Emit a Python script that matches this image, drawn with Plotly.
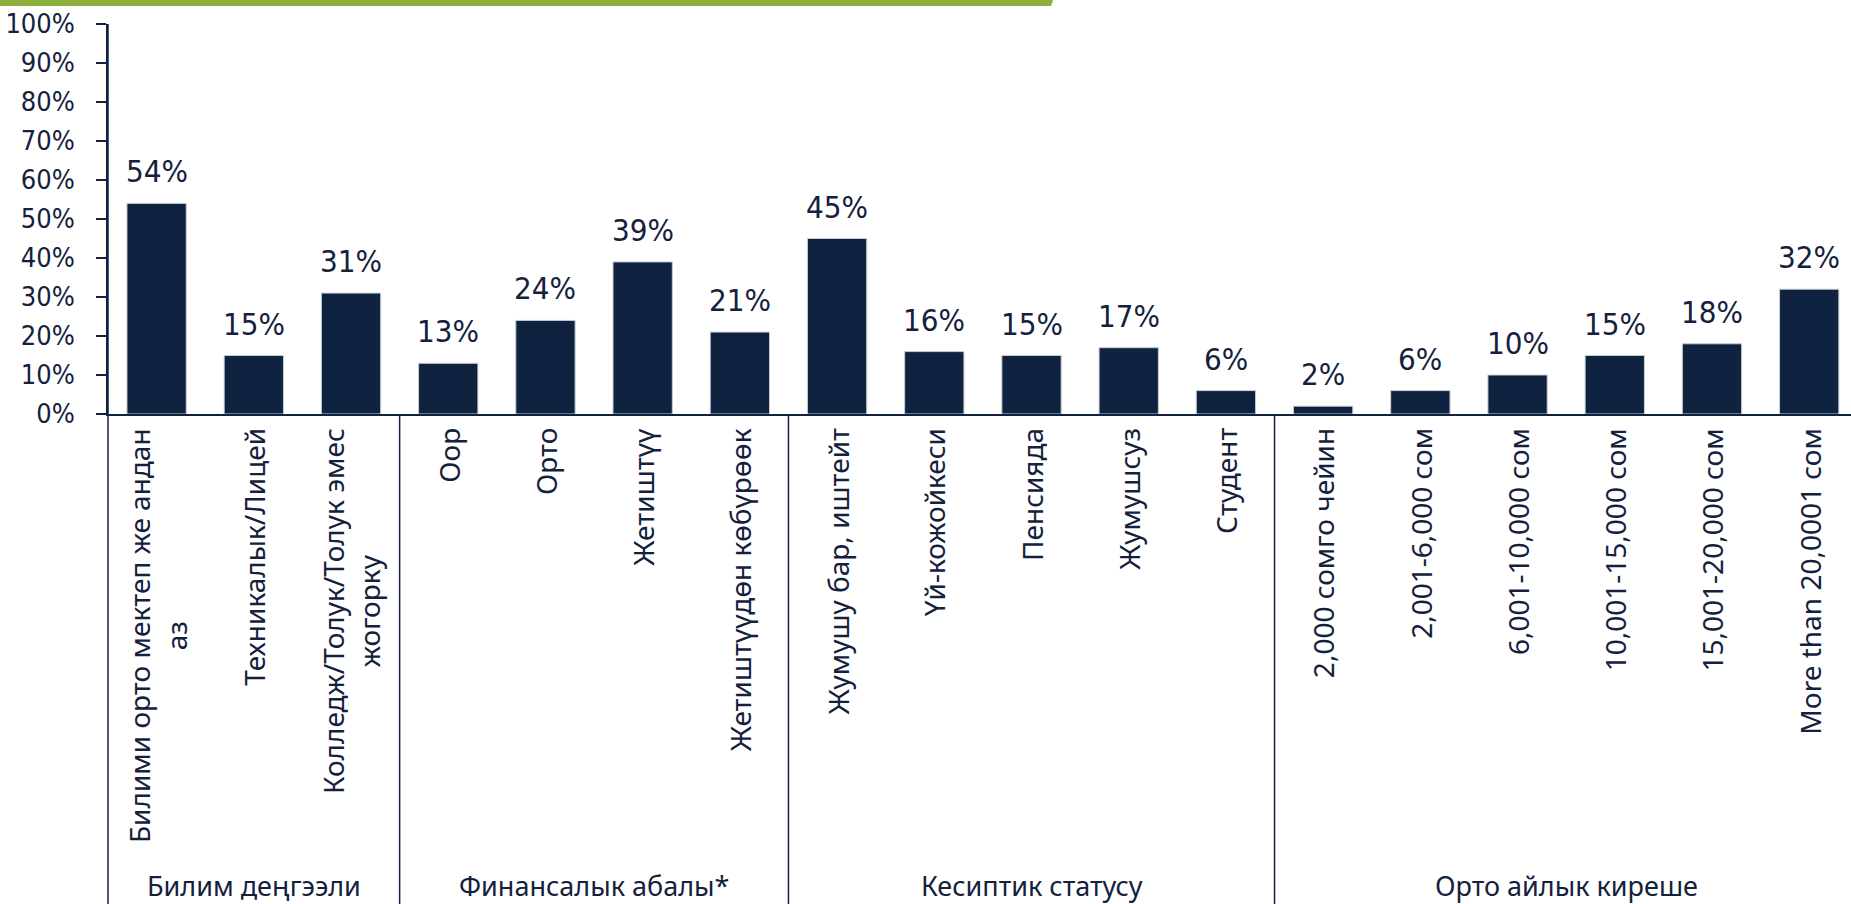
import plotly.graph_objects as go

categories = [
    "Билими орто мектеп же андан<br>аз",
    "Техникалык/Лицей",
    "Колледж/Толук/Толук эмес<br>жогорку",
    "Оор",
    "Орто",
    "Жетиштүү",
    "Жетиштүүдөн көбүрөөк",
    "Жумушу бар, иштейт",
    "Үй-кожойкеси",
    "Пенсияда",
    "Жумушсуз",
    "Студент",
    "2,000 сомго чейин",
    "2,001-6,000 сом",
    "6,001-10,000 сом",
    "10,001-15,000 сом",
    "15,001-20,000 сом",
    "More than 20,0001 сом",
]
values = [54, 15, 31, 13, 24, 39, 21, 45, 16, 15, 17, 6, 2, 6, 10, 15, 18, 32]
group_names = ["Билим деңгээли", "Финансалык абалы*", "Кесиптик статусу", "Орто айлык киреше"]
group_sizes = [3, 4, 5, 6]
y_ticks = [0, 10, 20, 30, 40, 50, 60, 70, 80, 90, 100]

NAVY = "#0f2340"
TEXT = "#14213d"
GREEN = "#8db03c"
NARROW = "Liberation Sans Narrow, DejaVu Sans Condensed, Liberation Sans, sans-serif"
SANS = "Noto Sans, DejaVu Sans, sans-serif"

W, H = 1851, 904
L, R, T = 108, 0, 24
ZERO_Y = 414
B = H - ZERO_Y
x_range = [-0.5, 17.43]

xs = list(range(len(categories)))

fig = go.Figure()
fig.add_trace(go.Bar(
    x=xs, y=values,
    marker=dict(color=NAVY, line=dict(color="#c8ccd4", width=1)),
    width=0.61,
    hoverinfo="skip",
))

annotations = []
for x, v in zip(xs, values):
    annotations.append(dict(
        x=x, y=v, xref="x", yref="y", text=f"{v}%", showarrow=False,
        yanchor="bottom", yshift=12,
        font=dict(family=NARROW, size=31, color=TEXT),
    ))

# category labels (rotated, lines centred)
for x, c in zip(xs, categories):
    annotations.append(dict(
        x=x, y=0, xref="x", yref="y", text=c, showarrow=False,
        textangle=-90, yanchor="top", xanchor="center", align="center",
        yshift=-12, font=dict(family=SANS, size=28, color=TEXT),
    ))

plot_h = H - T - B
plot_w = W - L - R
label_y = (ZERO_Y - 885) / plot_h
bottom_y = -(B + 5) / plot_h

shapes = []
# left axis continuation
shapes.append(dict(type="line", xref="paper", yref="paper", x0=0, x1=0, y0=1, y1=bottom_y,
                   line=dict(color=NAVY, width=1.5)))
start = 0
for name, n in zip(group_names, group_sizes):
    center = start + (n - 1) / 2
    annotations.append(dict(
        x=center, y=label_y, xref="x", yref="paper", text=name, showarrow=False,
        yanchor="middle", font=dict(family=SANS, size=27, color=TEXT),
    ))
    end = start + n
    if end < len(categories):
        shapes.append(dict(type="line", xref="x", yref="paper", x0=end - 0.5, x1=end - 0.5,
                           y0=0, y1=bottom_y, line=dict(color=NAVY, width=1.5)))
    start = end


def px(x):
    return (x - L) / plot_w


def py(y):
    return (ZERO_Y - y) / plot_h


# green top band
shapes.append(dict(type="path", xref="paper", yref="paper",
                   path=f"M {px(-5)} {py(-5)} L {px(1055)} {py(-5)} "
                        f"L {px(1051)} {py(6)} L {px(-5)} {py(6)} Z",
                   fillcolor=GREEN, line=dict(width=0)))

fig.update_layout(
    width=W, height=H,
    margin=dict(l=L, r=R, t=T, b=B, pad=0),
    paper_bgcolor="white", plot_bgcolor="white",
    showlegend=False,
    annotations=annotations,
    shapes=shapes,
    xaxis=dict(
        range=x_range, tickmode="array", tickvals=xs, showticklabels=False,
        showline=True, linecolor=NAVY, linewidth=1.5,
        ticks="", showgrid=False, zeroline=False, fixedrange=True,
    ),
    yaxis=dict(
        range=[0, 100], tickmode="array", tickvals=y_ticks,
        ticktext=[f"{t}%" for t in y_ticks],
        showline=True, linecolor=NAVY, linewidth=1.5,
        ticks="outside", ticklen=10, tickcolor=NAVY, tickwidth=1.5,
        showgrid=False, zeroline=False, fixedrange=True,
        tickfont=dict(family=NARROW, size=27, color=TEXT),
        ticklabelstandoff=16, ticklabeloverflow="allow",
    ),
)

fig.write_html("out.html", config={"displayModeBar": False},
               post_script="document.body.style.margin='0';")
